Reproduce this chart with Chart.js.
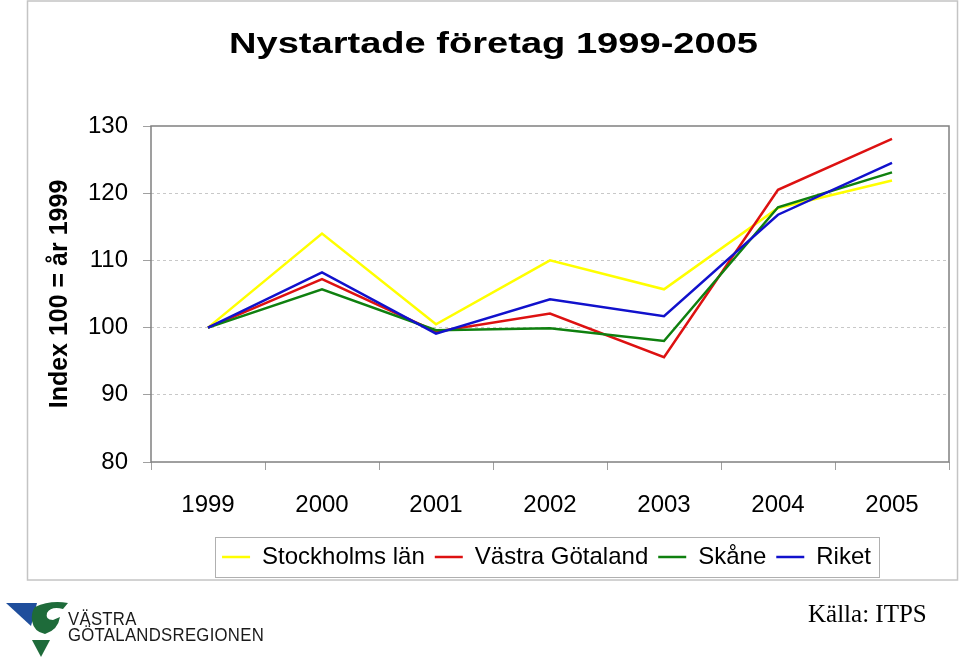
<!DOCTYPE html>
<html>
<head>
<meta charset="utf-8">
<script src="https://cdn.jsdelivr.net/npm/chart.js@4.4.1/dist/chart.umd.min.js"></script>
<style>
  html, body { margin: 0; padding: 0; background: #fff; }
  #wrap { position: relative; width: 960px; height: 662px; overflow: hidden; }
  #c { position: absolute; left: 0; top: 0; }
  .logo-text { position: absolute; font-family: "Liberation Sans", Arial, sans-serif; color: #1a1a1a; letter-spacing: 0.3px; white-space: nowrap; transform-origin: 0 0; transform: scaleX(0.93); }
  #src { position: absolute; left: 808px; top: 600px; font-family: "Liberation Serif", "Times New Roman", serif; font-size: 25px; color: #000; white-space: nowrap; }
</style>
</head>
<body>
<div id="wrap">
  <canvas id="c" width="960" height="662"></canvas>
  <svg style="position:absolute;left:0;top:598px" width="70" height="62" viewBox="0 598 70 62">
    <polygon points="6,603 37,603 31,626" fill="#1f4e9c"/>
    <path d="M35 607 Q50 600 68 603 L63 609 Q51 606 47 613 Q45 620 53 620 L60 617 Q58 630 45 634 Q34 632 32 621 Q31 612 35 607 Z" fill="#1e6b3a"/>
    <polygon points="32,640 50,640 41,657" fill="#1e6b3a"/>
  </svg>
  <div class="logo-text" style="left:68px;top:609px;font-size:18px;">VÄSTRA</div>
  <div class="logo-text" style="left:68px;top:625px;font-size:18px;">GÖTALANDSREGIONEN</div>
  <div id="src">Källa: ITPS</div>
</div>
<script>
const chartTitle = 'Nystartade företag 1999-2005';
const yAxisTitle = 'Index 100 = år 1999';
const years = ['1999', '2000', '2001', '2002', '2003', '2004', '2005'];
const yTicks = [80, 90, 100, 110, 120, 130];
const seriesNames = ['Stockholms län', 'Västra Götaland', 'Skåne', 'Riket'];
const stockholm = [100, 114.0, 100.5, 110.0, 105.7, 117.8, 121.9];
const vastraGotaland = [100, 107.2, 99.4, 102.1, 95.6, 120.5, 128.1];
const skane = [100, 105.7, 99.6, 99.9, 98.0, 117.9, 123.1];
const riket = [100, 108.2, 99.1, 104.2, 101.7, 116.8, 124.5];
const seriesColors = ['#ffff00', '#dd1111', '#0f800f', '#1111cc'];

const FONT = '"Liberation Sans", Arial, sans-serif';
const seriesData = [stockholm, vastraGotaland, skane, riket];

const datasets = seriesData.map((d, i) => ({
  label: seriesNames[i],
  data: d,
  borderColor: seriesColors[i],
  backgroundColor: seriesColors[i],
  borderWidth: 2.5,
  pointRadius: 0,
  pointHoverRadius: 0,
  tension: 0,
  fill: false,
  order: seriesData.length - i
}));

const decorPlugin = {
  id: 'decor',
  beforeDraw(chart) {
    const ctx = chart.ctx;
    ctx.save();
    ctx.fillStyle = '#fff';
    ctx.fillRect(0, 0, chart.width, chart.height);
    ctx.strokeStyle = '#c4c4c4';
    ctx.lineWidth = 1.5;
    ctx.strokeRect(27.5, 1, 930, 579);
    ctx.restore();
  },
  afterLayout(chart) {
    const lg = chart.legend;
    if (!lg) return;
    lg.left = 174; lg.right = 919; lg.width = 745;
    lg.top = 535; lg.bottom = 575; lg.height = 40;
  },
  beforeDatasetsDraw(chart) {
    const {ctx, chartArea: a} = chart;
    ctx.save();
    ctx.strokeStyle = '#808080';
    ctx.lineWidth = 1.5;
    ctx.strokeRect(a.left, a.top, a.right - a.left, a.bottom - a.top);
    ctx.restore();
  },
  afterDraw(chart) {
    const ctx = chart.ctx;
    const lg = chart.legend;
    if (lg && lg.legendHitBoxes && lg.legendHitBoxes.length) {
      const hb = lg.legendHitBoxes;
      const l = Math.min(...hb.map(h => h.left)) - 7;
      const r = Math.max(...hb.map(h => h.left + h.width)) + 8;
      ctx.save();
      ctx.strokeStyle = '#b0b0b0';
      ctx.lineWidth = 1;
      ctx.strokeRect(Math.round(l) + 0.5, lg.top + 2.5, Math.round(r - l), 40);
      ctx.restore();
    }
    ctx.save();
    ctx.font = 'bold 29px ' + FONT;
    ctx.fillStyle = '#000';
    ctx.textBaseline = 'alphabetic';
    const w = ctx.measureText(chartTitle).width;
    const sx = 529 / w;
    ctx.translate(229, 53);
    ctx.scale(sx, 1);
    ctx.fillText(chartTitle, 0, 0);
    ctx.restore();
  }
};

const config = {
  type: 'line',
  data: { labels: years, datasets },
  options: {
    responsive: false,
    animation: false,
    events: [],
    layout: { padding: { left: 27, right: 11, top: 126, bottom: 80 } },
    plugins: {
      title: { display: false },
      tooltip: { enabled: false },
      legend: {
        display: true,
        position: 'bottom',
        align: 'center',
        labels: {
          usePointStyle: true,
          pointStyle: 'line',
          pointStyleWidth: 28,
          color: '#000',
          padding: 10,
          font: { family: FONT, size: 24 },
          sort: (a, b) => a.datasetIndex - b.datasetIndex
        }
      }
    },
    scales: {
      x: {
        type: 'category',
        offset: true,
        grid: {
          offset: true,
          drawOnChartArea: false,
          drawTicks: true,
          tickLength: 8,
          tickColor: '#a0a0a0',
          color: '#a0a0a0'
        },
        border: { display: false },
        ticks: {
          color: '#000',
          font: { family: FONT, size: 24 },
          padding: 21,
          maxRotation: 0,
          autoSkip: false
        }
      },
      y: {
        type: 'linear',
        min: yTicks[0],
        max: yTicks[yTicks.length - 1],
        afterBuildTicks(scale) { scale.ticks = yTicks.map(v => ({ value: v })); },
        afterFit(scale) { scale.width = 124; },
        grid: {
          drawTicks: true,
          tickLength: 8,
          tickColor: '#a0a0a0',
          tickBorderDash: [],
          lineWidth: 1,
          color: (c) => (c.tick && (c.tick.value === yTicks[0] || c.tick.value === yTicks[yTicks.length - 1])) ? 'rgba(0,0,0,0)' : '#c8c8c8'
        },
        border: { display: false, dash: [3, 3] },
        ticks: {
          color: '#000',
          font: { family: FONT, size: 24 },
          padding: 15
        },
        title: {
          display: true,
          text: yAxisTitle,
          color: '#000',
          font: { family: FONT, size: 25, weight: 'bold' },
          padding: { top: 18, bottom: 0 }
        }
      }
    }
  },
  plugins: [decorPlugin]
};

const chart = new Chart(document.getElementById('c'), config);
const want = { left: 151, top: 126, right: 949, bottom: 462 };
const a = chart.chartArea;
const p = config.options.layout.padding;
chart.options.layout.padding = {
  left: p.left + (want.left - a.left),
  top: p.top + (want.top - a.top),
  right: p.right + (a.right - want.right),
  bottom: p.bottom + (a.bottom - want.bottom)
};
chart.update('none');
</script>
</body>
</html>
